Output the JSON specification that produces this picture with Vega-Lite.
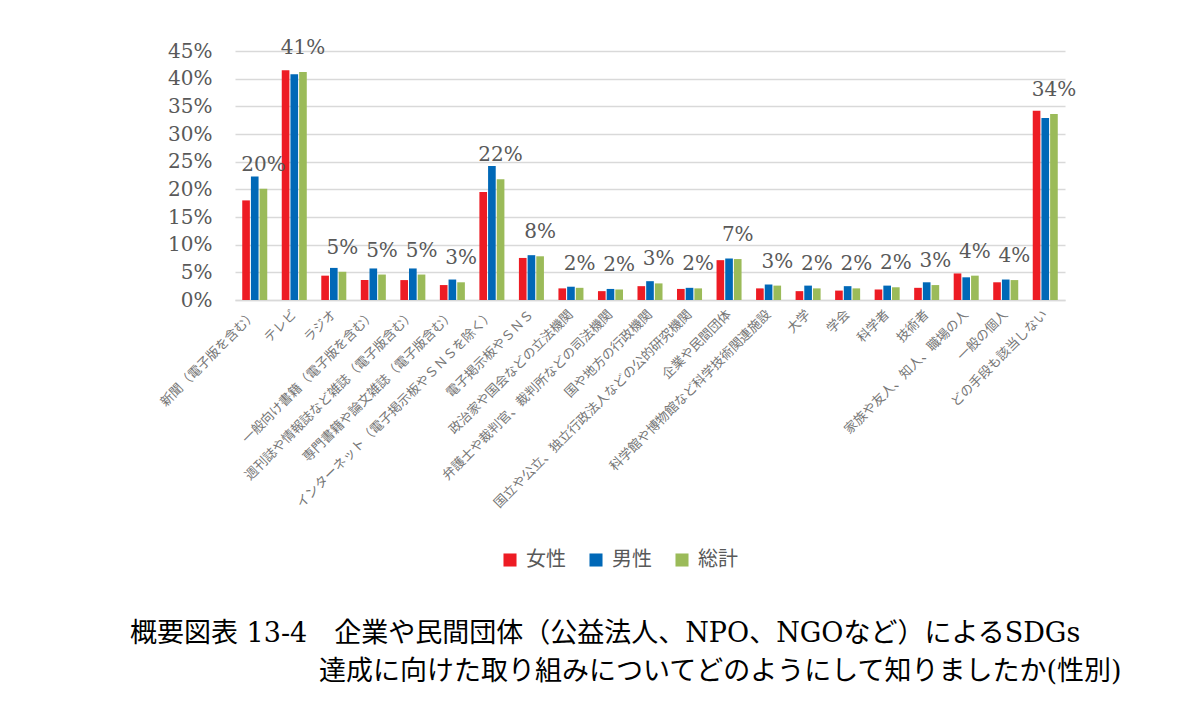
{
  "$schema": "https://vega.github.io/schema/vega-lite/v6.json",
  "autosize": "none",
  "width": 830,
  "height": 249,
  "padding": {"left": 235, "top": 51, "right": 119, "bottom": 406},
  "background": "white",
  "data": {
    "values": [
      {"cat": "新聞（電子版を含む）", "group": "女性", "value": 0.180},
      {"cat": "新聞（電子版を含む）", "group": "男性", "value": 0.223},
      {"cat": "新聞（電子版を含む）", "group": "総計", "value": 0.201},
      {"cat": "テレビ", "group": "女性", "value": 0.415},
      {"cat": "テレビ", "group": "男性", "value": 0.408},
      {"cat": "テレビ", "group": "総計", "value": 0.412},
      {"cat": "ラジオ", "group": "女性", "value": 0.044},
      {"cat": "ラジオ", "group": "男性", "value": 0.058},
      {"cat": "ラジオ", "group": "総計", "value": 0.051},
      {"cat": "一般向け書籍（電子版を含む）", "group": "女性", "value": 0.036},
      {"cat": "一般向け書籍（電子版を含む）", "group": "男性", "value": 0.057},
      {"cat": "一般向け書籍（電子版を含む）", "group": "総計", "value": 0.046},
      {"cat": "週刊誌や情報誌など雑誌（電子版含む）", "group": "女性", "value": 0.036},
      {"cat": "週刊誌や情報誌など雑誌（電子版含む）", "group": "男性", "value": 0.057},
      {"cat": "週刊誌や情報誌など雑誌（電子版含む）", "group": "総計", "value": 0.046},
      {"cat": "専門書籍や論文雑誌（電子版含む）", "group": "女性", "value": 0.027},
      {"cat": "専門書籍や論文雑誌（電子版含む）", "group": "男性", "value": 0.037},
      {"cat": "専門書籍や論文雑誌（電子版含む）", "group": "総計", "value": 0.032},
      {"cat": "インターネット（電子掲示板やＳＮＳを除く）", "group": "女性", "value": 0.195},
      {"cat": "インターネット（電子掲示板やＳＮＳを除く）", "group": "男性", "value": 0.242},
      {"cat": "インターネット（電子掲示板やＳＮＳを除く）", "group": "総計", "value": 0.218},
      {"cat": "電子掲示板やＳＮＳ", "group": "女性", "value": 0.076},
      {"cat": "電子掲示板やＳＮＳ", "group": "男性", "value": 0.081},
      {"cat": "電子掲示板やＳＮＳ", "group": "総計", "value": 0.079},
      {"cat": "政治家や国会などの立法機関", "group": "女性", "value": 0.021},
      {"cat": "政治家や国会などの立法機関", "group": "男性", "value": 0.024},
      {"cat": "政治家や国会などの立法機関", "group": "総計", "value": 0.022},
      {"cat": "弁護士や裁判官、裁判所などの司法機関", "group": "女性", "value": 0.016},
      {"cat": "弁護士や裁判官、裁判所などの司法機関", "group": "男性", "value": 0.020},
      {"cat": "弁護士や裁判官、裁判所などの司法機関", "group": "総計", "value": 0.019},
      {"cat": "国や地方の行政機関", "group": "女性", "value": 0.025},
      {"cat": "国や地方の行政機関", "group": "男性", "value": 0.034},
      {"cat": "国や地方の行政機関", "group": "総計", "value": 0.030},
      {"cat": "国立や公立、独立行政法人などの公的研究機関", "group": "女性", "value": 0.020},
      {"cat": "国立や公立、独立行政法人などの公的研究機関", "group": "男性", "value": 0.022},
      {"cat": "国立や公立、独立行政法人などの公的研究機関", "group": "総計", "value": 0.021},
      {"cat": "企業や民間団体", "group": "女性", "value": 0.072},
      {"cat": "企業や民間団体", "group": "男性", "value": 0.075},
      {"cat": "企業や民間団体", "group": "総計", "value": 0.074},
      {"cat": "科学館や博物館など科学技術関連施設", "group": "女性", "value": 0.021},
      {"cat": "科学館や博物館など科学技術関連施設", "group": "男性", "value": 0.028},
      {"cat": "科学館や博物館など科学技術関連施設", "group": "総計", "value": 0.026},
      {"cat": "大学", "group": "女性", "value": 0.016},
      {"cat": "大学", "group": "男性", "value": 0.026},
      {"cat": "大学", "group": "総計", "value": 0.021},
      {"cat": "学会", "group": "女性", "value": 0.017},
      {"cat": "学会", "group": "男性", "value": 0.025},
      {"cat": "学会", "group": "総計", "value": 0.021},
      {"cat": "科学者", "group": "女性", "value": 0.019},
      {"cat": "科学者", "group": "男性", "value": 0.026},
      {"cat": "科学者", "group": "総計", "value": 0.023},
      {"cat": "技術者", "group": "女性", "value": 0.022},
      {"cat": "技術者", "group": "男性", "value": 0.032},
      {"cat": "技術者", "group": "総計", "value": 0.027},
      {"cat": "家族や友人、知人、職場の人", "group": "女性", "value": 0.048},
      {"cat": "家族や友人、知人、職場の人", "group": "男性", "value": 0.041},
      {"cat": "家族や友人、知人、職場の人", "group": "総計", "value": 0.044},
      {"cat": "一般の個人", "group": "女性", "value": 0.032},
      {"cat": "一般の個人", "group": "男性", "value": 0.037},
      {"cat": "一般の個人", "group": "総計", "value": 0.036},
      {"cat": "どの手段も該当しない", "group": "女性", "value": 0.342},
      {"cat": "どの手段も該当しない", "group": "男性", "value": 0.329},
      {"cat": "どの手段も該当しない", "group": "総計", "value": 0.336}
    ]
  },
  "title": {
    "text": [
      "概要図表 13-4　企業や民間団体（公益法人、NPO、NGOなど）によるSDGs",
      "\u200b　　　　　　　達成に向けた取り組みについてどのようにして知りましたか(性別)"
    ],
    "orient": "bottom",
    "anchor": "start",
    "frame": "group",
    "align": "left",
    "dx": -105,
    "offset": 51,
    "font": "DejaVu Serif, Noto Sans CJK JP",
    "fontSize": 27,
    "fontWeight": "normal",
    "color": "#000000",
    "lineHeight": 38
  },
  "encoding": {
    "x": {
      "field": "cat",
      "type": "nominal",
      "sort": null,
      "title": null,
      "scale": {"paddingInner": 0.367, "paddingOuter": 0.183},
      "axis": {
        "labelAngle": -45,
        "labelAlign": "right",
        "labelBaseline": "middle",
        "labelPadding": 12,
        "labelLimit": 0,
        "labelFont": "Noto Sans CJK JP",
        "labelFontSize": 13,
        "labelColor": "#767676",
        "ticks": false,
        "domainColor": "#d9d9d9",
        "domainWidth": 1.5,
        "grid": false
      }
    },
    "y": {
      "field": "value",
      "type": "quantitative",
      "title": null,
      "scale": {"domain": [0, 0.45], "nice": false},
      "axis": {
        "values": [0, 0.05, 0.1, 0.15, 0.2, 0.25, 0.3, 0.35, 0.4, 0.45],
        "format": ".0%",
        "labelFont": "DejaVu Serif",
        "labelFontSize": 20,
        "labelColor": "#595959",
        "labelPadding": 23,
        "domain": false,
        "ticks": false,
        "gridColor": "#d9d9d9",
        "gridWidth": 1.5
      }
    }
  },
  "layer": [
    {
      "mark": {"type": "bar"},
      "encoding": {
        "xOffset": {
          "field": "group",
          "type": "nominal",
          "sort": ["女性", "男性", "総計"],
          "scale": {"paddingInner": 0.12}
        },
        "color": {
          "field": "group",
          "type": "nominal",
          "sort": ["女性", "男性", "総計"],
          "scale": {
            "domain": ["女性", "男性", "総計"],
            "range": ["#ED1C24", "#0068B7", "#9BBB59"]
          },
          "legend": {
            "title": null,
            "orient": "none",
            "direction": "horizontal",
            "legendX": 265,
            "legendY": 499,
            "padding": 0,
            "symbolType": "square",
            "symbolSize": 170,
            "symbolStrokeWidth": 0,
            "labelFont": "Noto Sans CJK JP",
            "labelFontSize": 20,
            "labelColor": "#595959",
            "labelOffset": 6,
            "columnPadding": 20
          }
        }
      }
    },
    {
      "transform": [{"filter": "datum.group === '総計'"}],
      "mark": {
        "type": "text",
        "dy": -24,
        "baseline": "middle",
        "align": "center",
        "font": "DejaVu Serif",
        "fontSize": 20,
        "color": "#595959"
      },
      "encoding": {
        "xOffset": {"field": "group", "type": "nominal"},
        "text": {"field": "value", "type": "quantitative", "format": ".0%"}
      }
    }
  ],
  "config": {
    "view": {"stroke": null}
  }
}
